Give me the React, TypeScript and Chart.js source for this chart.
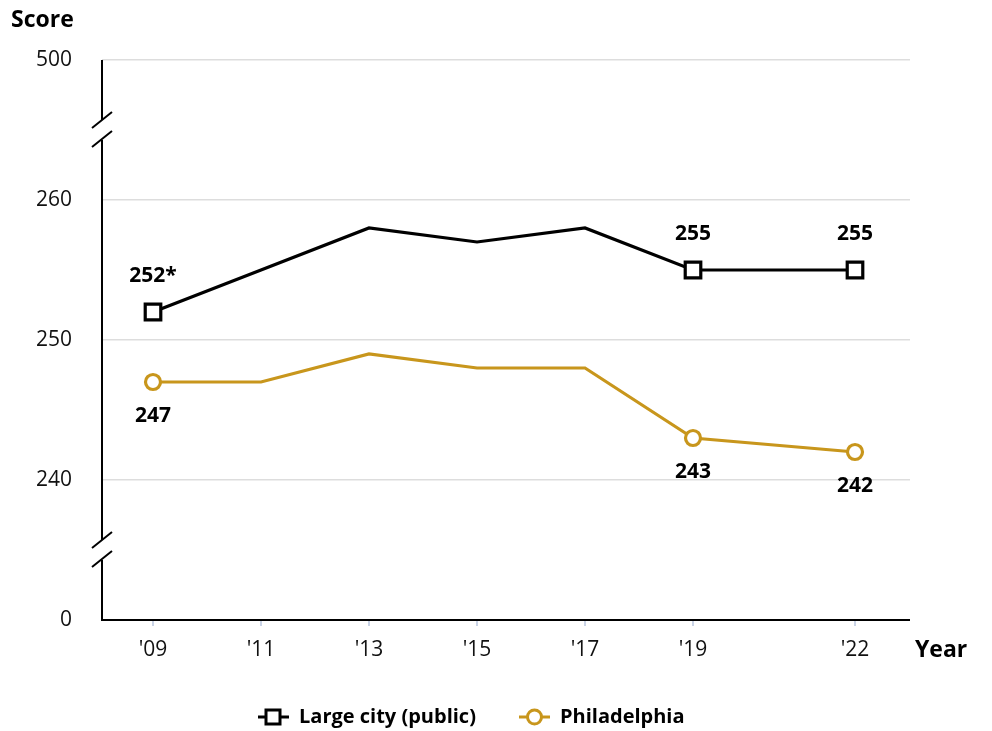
import React, { useEffect, useRef } from "react";
import { Chart, registerables } from "chart.js";

Chart.register(...registerables);

const years = [2009, 2011, 2013, 2015, 2017, 2019, 2022];
const yearLabels = ["'09", "'11", "'13", "'15", "'17", "'19", "'22"];
const largeCity = [252, 255, 258, 257, 258, 255, 255];
const philadelphia = [247, 247, 249, 248, 248, 243, 242];
const largeCityLabels = ["252*", "", "", "", "", "255", "255"];
const philadelphiaLabels = ["247", "", "", "", "", "243", "242"];
const markerShown = [true, false, false, false, false, true, true];
const yTickValues = [230, 240, 250, 260, 270];
const yTickLabels = ["0", "240", "250", "260", "500"];
const breakValues = [265, 235];

const FONT = "'Open Sans', 'Noto Sans', sans-serif";
const GOLD = "#c8961c";
const BLACK = "#000000";

export default function App() {
  const ref = useRef<HTMLCanvasElement | null>(null);

  useEffect(() => {
    const canvas = ref.current;
    if (!canvas) return;

    const overlay = {
      id: "overlay",
      afterDraw(chart: any) {
        const ctx = chart.ctx;
        const xs = chart.scales.x;
        const ys = chart.scales.y;
        const area = chart.chartArea;
        ctx.save();
        // y axis with breaks
        ctx.strokeStyle = BLACK;
        ctx.lineWidth = 2;
        const ax = area.left;
        const breaksPx = breakValues.map((v) => ys.getPixelForValue(v)).sort((a, b) => a - b);
        let start = area.top;
        ctx.beginPath();
        for (const b of breaksPx) {
          ctx.moveTo(ax, start);
          ctx.lineTo(ax, b - 10);
          start = b + 10;
        }
        ctx.moveTo(ax, start);
        ctx.lineTo(ax, area.bottom + 1);
        ctx.stroke();
        // slashes
        for (const b of breaksPx) {
          ctx.beginPath();
          ctx.moveTo(ax - 10, b - 2);
          ctx.lineTo(ax + 10, b - 18);
          ctx.moveTo(ax - 10, b + 17);
          ctx.lineTo(ax + 10, b + 1);
          ctx.stroke();
        }
        // x axis
        ctx.beginPath();
        ctx.moveTo(area.left - 1, area.bottom);
        ctx.lineTo(area.right, area.bottom);
        ctx.stroke();

        // axis titles
        ctx.fillStyle = BLACK;
        ctx.font = `bold 23px ${FONT}`;
        ctx.textBaseline = "middle";
        ctx.textAlign = "left";
        ctx.fillText("Score", 11, 20);
        ctx.fillText("Year", 915, 650);

        // data labels
        ctx.font = `bold 21px ${FONT}`;
        ctx.textAlign = "center";
        years.forEach((yr, i) => {
          const px = xs.getPixelForValue(yr);
          if (largeCityLabels[i]) {
            ctx.fillText(largeCityLabels[i], px, ys.getPixelForValue(largeCity[i]) - 36);
          }
          if (philadelphiaLabels[i]) {
            ctx.fillText(philadelphiaLabels[i], px, ys.getPixelForValue(philadelphia[i]) + 34);
          }
        });

        // legend
        const ly = 717;
        ctx.lineWidth = 3;
        ctx.strokeStyle = BLACK;
        ctx.beginPath();
        ctx.moveTo(258, ly);
        ctx.lineTo(289, ly);
        ctx.stroke();
        ctx.fillStyle = "#fff";
        ctx.fillRect(266, ly - 7, 14, 14);
        ctx.strokeRect(266, ly - 7, 14, 14);
        ctx.strokeStyle = GOLD;
        ctx.beginPath();
        ctx.moveTo(519, ly);
        ctx.lineTo(550, ly);
        ctx.stroke();
        ctx.beginPath();
        ctx.arc(534.5, ly, 7, 0, Math.PI * 2);
        ctx.fill();
        ctx.stroke();
        ctx.fillStyle = BLACK;
        ctx.font = `bold 20px ${FONT}`;
        ctx.textAlign = "left";
        ctx.fillText("Large city (public)", 299, ly);
        ctx.fillText("Philadelphia", 560, ly);
        ctx.restore();
      },
    };

    const chart = new Chart(canvas, {
      type: "line",
      data: {
        datasets: [
          {
            label: "Large city (public)",
            data: years.map((x, i) => ({ x, y: largeCity[i] })),
            borderColor: BLACK,
            backgroundColor: "#ffffff",
            borderWidth: 3.2,
            pointStyle: "rect",
            pointRadius: markerShown.map((m) => (m ? 11 : 0)),
            pointBorderWidth: 3.2,
            pointBorderColor: BLACK,
            pointBackgroundColor: "#ffffff",
            tension: 0,
          },
          {
            label: "Philadelphia",
            data: years.map((x, i) => ({ x, y: philadelphia[i] })),
            borderColor: GOLD,
            backgroundColor: "#ffffff",
            borderWidth: 3.2,
            pointStyle: "circle",
            pointRadius: markerShown.map((m) => (m ? 7.5 : 0)),
            pointBorderWidth: 3.2,
            pointBorderColor: GOLD,
            pointBackgroundColor: "#ffffff",
            tension: 0,
          },
        ],
      },
      options: {
        animation: false,
        responsive: false,
        devicePixelRatio: 1,
        layout: { padding: 0 },
        plugins: { legend: { display: false }, tooltip: { enabled: false } },
        scales: {
          x: {
            type: "linear",
            min: 2009 - 51 / 54,
            max: 2022 + 55 / 54,
            afterBuildTicks: (scale: any) => {
              scale.ticks = years.map((v) => ({ value: v }));
            },
            afterFit: (scale: any) => {
              scale.height = 731 - 620;
            },
            border: { display: false },
            grid: {
              display: true,
              drawOnChartArea: false,
              drawTicks: true,
              tickLength: 6,
              color: "#c9d3e6",
              lineWidth: 2,
            },
            ticks: {
              autoSkip: false,
              maxRotation: 0,
              padding: 11,
              color: "#111",
              font: { family: FONT, size: 21 },
              callback: (v: any) => {
                const i = years.indexOf(Number(v));
                return i >= 0 ? yearLabels[i] : "";
              },
            },
          },
          y: {
            type: "linear",
            min: 230,
            max: 270,
            afterBuildTicks: (scale: any) => {
              scale.ticks = yTickValues.map((v) => ({ value: v }));
            },
            afterFit: (scale: any) => {
              scale.width = 102;
            },
            border: { display: false },
            grid: {
              drawTicks: false,
              color: (c: any) => (c.tick && c.tick.value === 230 ? "rgba(0,0,0,0)" : "#dddddd"),
              lineWidth: 1.5,
            },
            ticks: {
              padding: 30,
              color: "#111",
              font: { family: FONT, size: 21 },
              callback: (v: any) => {
                const i = yTickValues.indexOf(Number(v));
                return i >= 0 ? yTickLabels[i] : "";
              },
            },
          },
        },
      },
      plugins: [
        {
          id: "areaFix",
          beforeLayout(chart: any) {
            chart.options.layout.padding = { top: 60, right: 992 - 910, left: 0, bottom: 0 };
          },
        },
        overlay,
      ],
    } as any);

    return () => chart.destroy();
  }, []);

  return (
    <div style={{ position: "absolute", left: 0, top: 0, width: 992, height: 731, background: "#fff" }}>
      <canvas ref={ref} width={992} height={731} style={{ width: 992, height: 731, display: "block" }} />
    </div>
  );
}
